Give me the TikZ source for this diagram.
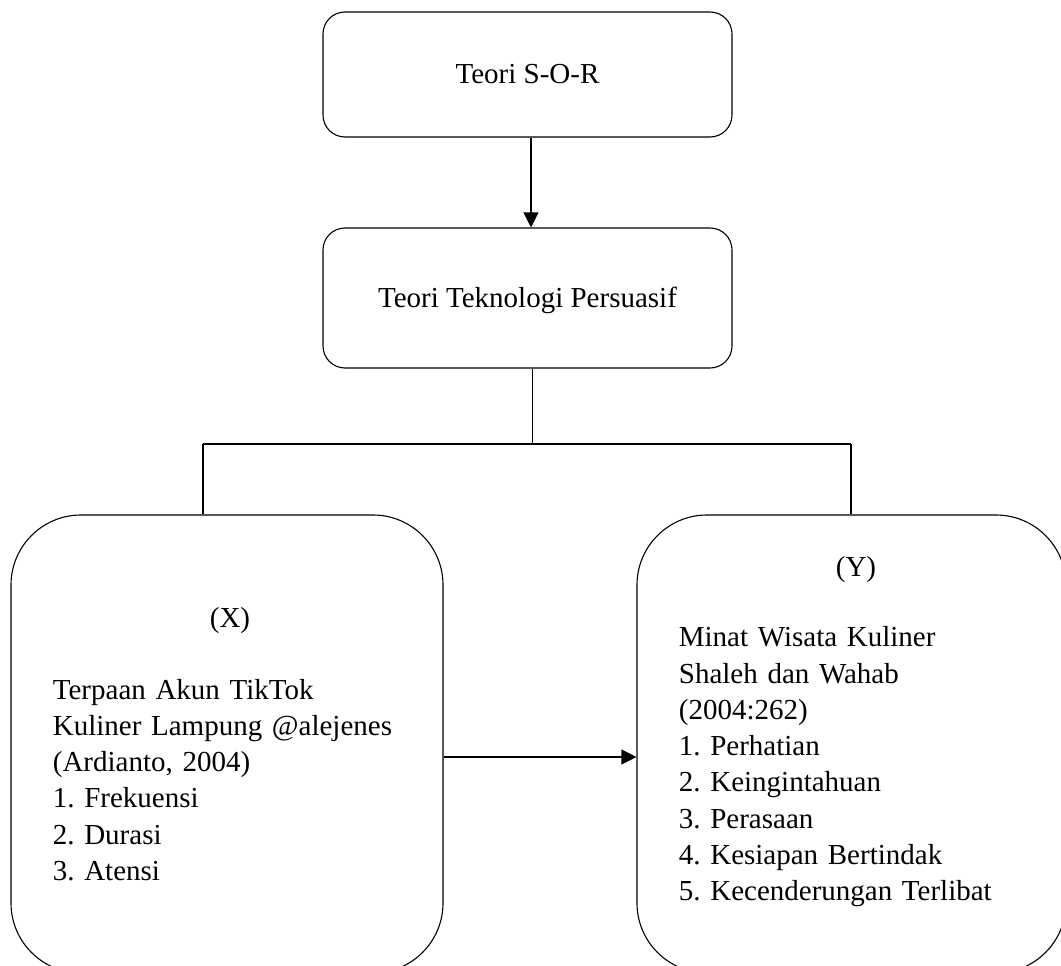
\documentclass[tikz,border=0pt]{standalone}
\usepackage{fontspec}
\setmainfont{Liberation Serif}
\usetikzlibrary{arrows.meta}
\frenchspacing
\begin{document}
\begin{tikzpicture}[x=1pt,y=-1pt,
  box/.style={draw, line width=1.1pt, rounded corners=22pt, inner sep=0pt,
    font=\fontsize{29}{36.3}\selectfont, text height=19pt, text depth=0pt},
  bigbox/.style={draw, line width=1.1pt, rounded corners=70pt, inner sep=0pt},
  txt/.style={font=\fontsize{29}{36.3}\selectfont, inner sep=0pt},
  arr/.style={-{Triangle[length=15pt,width=15pt]}, line width=1.1pt},
  ln/.style={line width=1.1pt}]
\useasboundingbox (0,0) rectangle (1061,966);
\clip (0,0) rectangle (1061,966);
% boxes
\node[box, minimum width=409pt, minimum height=125pt] (sor) at (527.5,74.5) {Teori S-O-R};
\node[box, minimum width=409pt, minimum height=140pt] (ttp) at (527.5,298) {Teori Teknologi Persuasif};
\node[bigbox, minimum width=432pt, minimum height=458pt] (xbox) at (227,744) {};
\node[bigbox, minimum width=429pt, minimum height=458pt] (ybox) at (851.5,744) {};
% texts
\node[txt, anchor=base] (xlab) at (230,627) {(X)};
\node[txt, anchor=base west, text width=370pt, align=left] (xtxt) at (52.7,699)
  {Terpaan Akun TikTok\\Kuliner Lampung @alejenes\\(Ardianto, 2004)\\1. Frekuensi\\2. Durasi\\3. Atensi};
\node[txt, anchor=base] (ylab) at (856,576) {(Y)};
\node[txt, anchor=base west, text width=370pt, align=left] (ytxt) at (678.7,646.7)
  {Minat Wisata Kuliner\\Shaleh dan Wahab\\(2004:262)\\1. Perhatian\\2. Keingintahuan\\3. Perasaan\\4. Kesiapan Bertindak\\5. Kecenderungan Terlibat};
% connectors
\coordinate (jl) at (203,444);
\coordinate (jr) at (851,444);
\draw[arr] ([xshift=3.5pt]sor.south) -- ([xshift=3.5pt]ttp.north);
\draw[ln] ([xshift=5pt]ttp.south) -- ([xshift=5pt]ttp.south |- jl);
\draw[ln] (jl) -- (jr);
\draw[ln] (jl) -- (jl |- xbox.north);
\draw[ln] (jr) -- (jr |- ybox.north);
\draw[arr] ([yshift=-13pt]xbox.east) -- ([yshift=-13pt]ybox.west);
\end{tikzpicture}
\end{document}
